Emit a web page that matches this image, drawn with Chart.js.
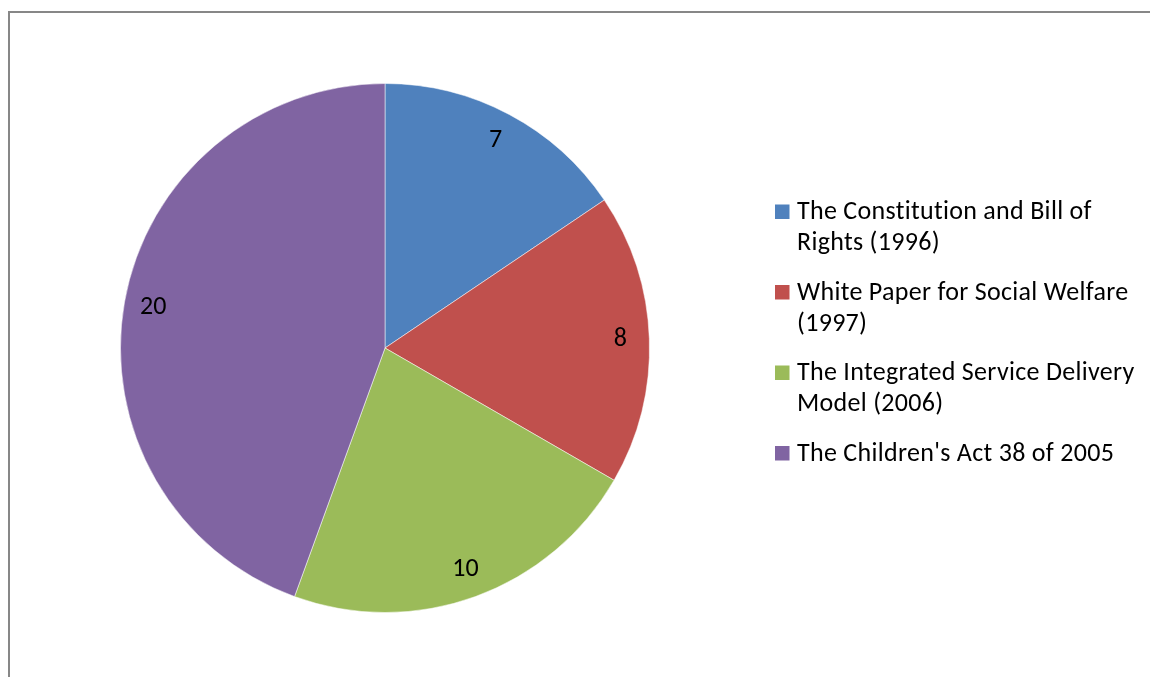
<!DOCTYPE html>
<html>
<head>
<meta charset="utf-8">
<script src="https://cdn.jsdelivr.net/npm/chart.js@4"></script>
<style>
  html, body { margin: 0; padding: 0; background: #fff; }
  #wrap { position: relative; width: 1150px; height: 677px; }
</style>
</head>
<body>
<div id="wrap"><canvas id="myChart" width="1150" height="677"></canvas></div>
<script>
const categories = [
  ["The Constitution and Bill of", "Rights (1996)"],
  ["White Paper for Social Welfare", "(1997)"],
  ["The Integrated Service Delivery", "Model (2006)"],
  ["The Children's Act 38 of 2005"]
];
const values = [7, 8, 10, 20];
const colors = ["#4F81BD", "#C0504D", "#9BBB59", "#8064A2"];

const FONT = "Carlito, Calibri, 'Liberation Sans', Arial, sans-serif";

// outer frame of the chart area
const framePlugin = {
  id: "frame",
  beforeDraw(chart) {
    const ctx = chart.ctx;
    ctx.save();
    ctx.strokeStyle = "#878787";
    ctx.lineWidth = 2;
    ctx.strokeRect(9, 12, 1200, 800);
    ctx.restore();
  },
};

// value labels inside each slice
const valueLabels = {
  id: "valueLabels",
  afterDatasetsDraw(chart) {
    const ctx = chart.ctx;
    const meta = chart.getDatasetMeta(0);
    ctx.save();
    ctx.font = "26px " + FONT;
    ctx.fillStyle = "#000";
    ctx.textAlign = "center";
    ctx.textBaseline = "middle";
    meta.data.forEach((arc, i) => {
      const p = arc.getProps(["x", "y", "startAngle", "endAngle", "outerRadius"], true);
      const mid = (p.startAngle + p.endAngle) / 2;
      const r = p.outerRadius * 0.89;
      ctx.fillText(values[i], p.x + Math.cos(mid) * r, p.y + Math.sin(mid) * r);
    });
    ctx.restore();
  },
};

// legend with wrapped labels on the right
const sideLegend = {
  id: "sideLegend",
  afterDraw(chart) {
    const ctx = chart.ctx;
    const x = 775, box = 14.5, lineH = 31, gap = 80.5;
    let y = 219; // baseline of the first line
    ctx.save();
    ctx.font = "26px " + FONT;
    ctx.letterSpacing = "0.3px";
    ctx.textBaseline = "alphabetic";
    ctx.textAlign = "left";
    categories.forEach((lines, i) => {
      ctx.fillStyle = colors[i];
      ctx.fillRect(x, y - box, box, box);
      ctx.fillStyle = "#000";
      lines.forEach((t, j) => ctx.fillText(t, x + 22, y + j * lineH));
      y += gap;
    });
    ctx.restore();
  },
};

const ctx = document.getElementById("myChart").getContext("2d");
const myChart = new Chart(ctx, {
  type: "pie",
  data: {
    labels: categories,
    datasets: [
      {
        data: values,
        backgroundColor: colors,
        borderColor: "rgba(255,255,255,0.5)",
        borderWidth: 1,
      },
    ],
  },
  options: {
    responsive: false,
    animation: false,
    layout: {
      padding: { left: 120, right: 500, top: 83, bottom: 64 },
    },
    plugins: {
      legend: { display: false },
      tooltip: { enabled: false },
    },
  },
  plugins: [framePlugin, valueLabels, sideLegend],
});
</script>
</body>
</html>
